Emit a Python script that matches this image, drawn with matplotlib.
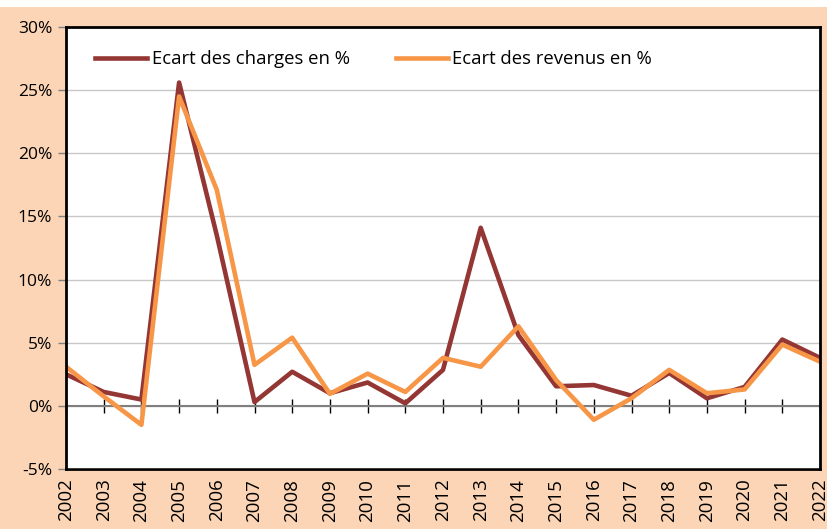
import matplotlib
matplotlib.use("Agg")
import matplotlib.pyplot as plt
from matplotlib.patches import Rectangle
from matplotlib.ticker import FuncFormatter, MultipleLocator

years = list(range(2002, 2023))
charges = [2.5, 1.1, 0.5, 25.6, 13.5, 0.3, 2.7, 1.0, 1.85, 0.2, 2.85, 14.1, 5.6, 1.55, 1.65, 0.8, 2.6, 0.6, 1.5, 5.25, 3.8]
revenus = [3.1, 0.75, -1.5, 24.5, 17.1, 3.25, 5.4, 0.95, 2.55, 1.1, 3.8, 3.1, 6.3, 2.05, -1.1, 0.6, 2.85, 1.0, 1.3, 4.85, 3.5]
label_charges = "Ecart des charges en %"
label_revenus = "Ecart des revenus en %"

peach = "#FBD5B5"
dark_red = "#943634"
orange = "#F79646"

plt.rcParams['font.family'] = ['Open Sans', 'DejaVu Sans']

fig = plt.figure(figsize=(8.27, 5.29), dpi=100, facecolor=peach)
fig.patches.append(Rectangle((0, 1 - 7/529), 1, 7/529, transform=fig.transFigure,
                             facecolor="white", edgecolor="none", zorder=0))
ax = fig.add_axes([66/827, 1 - 469/529, (820-66)/827, (469-27)/529])
ax.set_facecolor("white")

ax.plot(years, charges, color=dark_red, lw=3.3, label=label_charges, zorder=4)
ax.plot(years, revenus, color=orange, lw=3.3, label=label_revenus, zorder=5)

ax.set_xlim(2002, 2022)
ax.set_ylim(-5, 30)
ax.yaxis.set_major_locator(MultipleLocator(5))
ax.yaxis.set_major_formatter(FuncFormatter(lambda v, p: f"{v:.0f}%"))
ax.grid(axis="y", color="#C8C8C8", lw=1.0, zorder=0)
ax.set_axisbelow(True)

for s in ["left", "top", "right"]:
    ax.spines[s].set_color("black")
    ax.spines[s].set_linewidth(2.0)
    ax.spines[s].set_zorder(6)
ax.spines["bottom"].set_position(("data", 0))
ax.spines["bottom"].set_color("#7F7F7F")
ax.spines["bottom"].set_linewidth(1.5)

ax.set_xticks(years)
ax.tick_params(axis="x", direction="inout", length=9.5, width=1.0, color="black",
               labelbottom=False)
ax.tick_params(axis="y", direction="out", length=6, width=1.0, color="#7F7F7F",
               labelsize=12.5, pad=4)

sec = ax.secondary_xaxis(0)
sec.set_xticks(years)
sec.set_xticklabels([str(y) for y in years], rotation=90, fontsize=13.5)
sec.tick_params(length=0, pad=7)
sec.spines["bottom"].set_color("black")
sec.spines["bottom"].set_linewidth(2.0)

leg = ax.legend(loc="upper left", bbox_to_anchor=(0.017, 0.985), ncol=2, frameon=False,
                fontsize=13.3, handlelength=2.8, columnspacing=2.5, handletextpad=0.25)

fig.savefig("out.png", dpi=100, facecolor=peach)
